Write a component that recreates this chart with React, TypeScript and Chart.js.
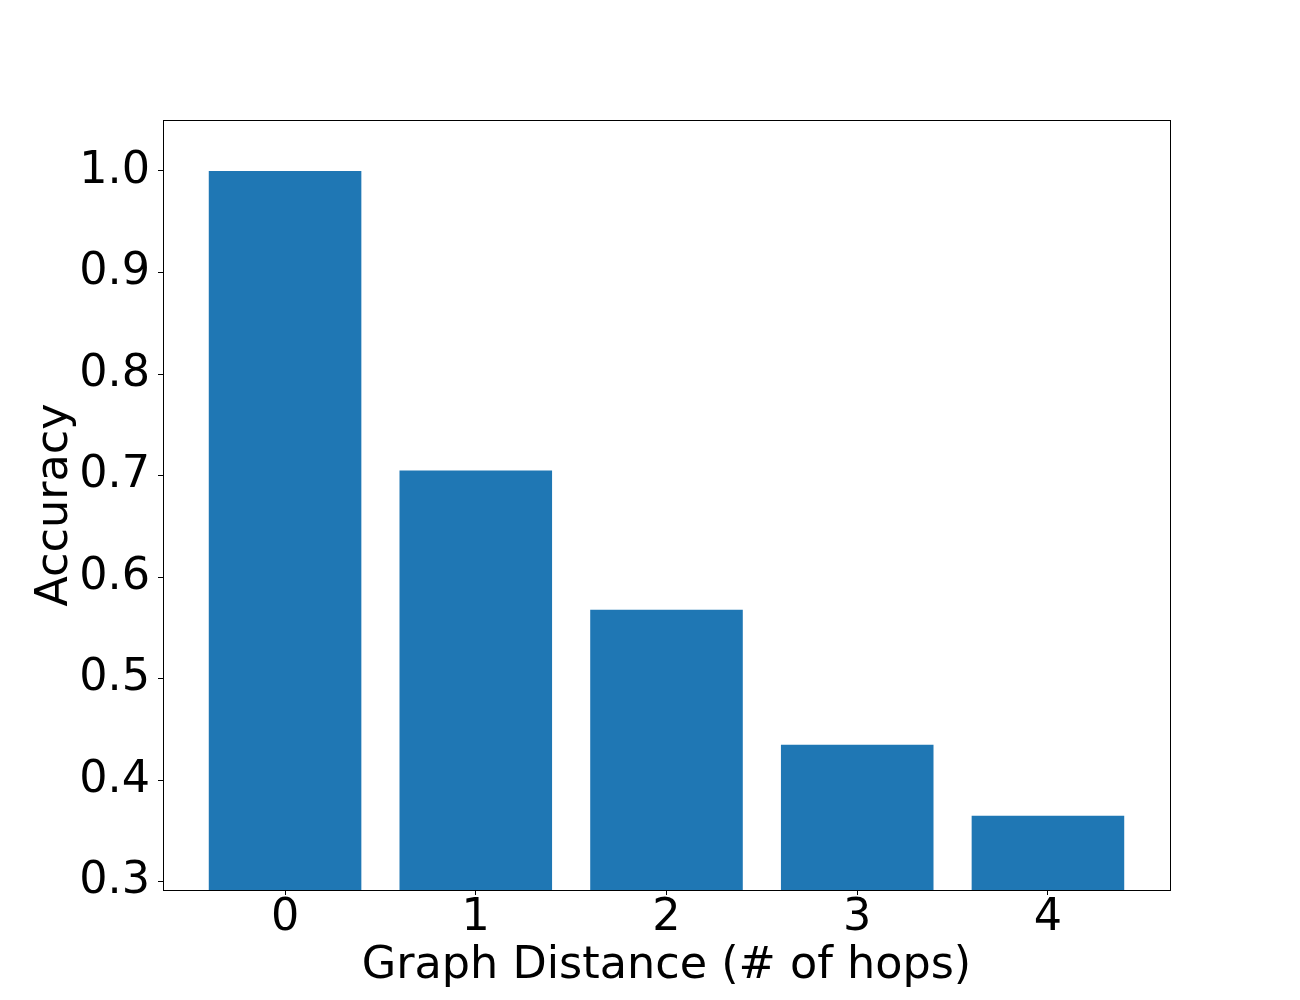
import React, { useEffect, useRef } from "react";
import { Chart, registerables } from "chart.js";

Chart.register(...registerables);

const categories = [0, 1, 2, 3, 4];
const tickLabels = ["0", "1", "2", "3", "4"];
const accuracy = [1.0, 0.705, 0.568, 0.435, 0.365];
const yTicks = [0.3, 0.4, 0.5, 0.6, 0.7, 0.8, 0.9, 1.0];
const xTitle = "Graph Distance (# of hops)";
const yTitle = "Accuracy";

const FONT = "'DejaVu Sans', sans-serif";
const FS = 44.5;

const framePlugin = {
  id: "frame",
  afterDatasetsDraw(chart: any) {
    const { ctx, chartArea } = chart;
    const l = Math.round(chartArea.left) + 0.5;
    const t = Math.round(chartArea.top) + 0.5;
    const r = Math.round(chartArea.right) + 0.5;
    const b = Math.round(chartArea.bottom) + 0.5;
    ctx.save();
    ctx.strokeStyle = "#000";
    ctx.lineWidth = 1;
    ctx.strokeRect(l, t, r - l, b - t);
    ctx.restore();
  },
};

export default function App() {
  const ref = useRef<HTMLCanvasElement | null>(null);

  useEffect(() => {
    if (!ref.current) return;
    const chart = new Chart(ref.current, {
      type: "bar",
      data: {
        datasets: [
          {
            data: accuracy.map((v, i) => ({ x: categories[i], y: v })),
            backgroundColor: "#1f77b4",
            borderWidth: 0,
            barPercentage: 0.8,
            categoryPercentage: 1.0,
          },
        ],
      },
      options: {
        responsive: false,
        animation: false,
        devicePixelRatio: 1,
        layout: { padding: { left: 0, top: 120, right: 130, bottom: 0 } },
        plugins: {
          legend: { display: false },
          tooltip: { enabled: false },
        },
        scales: {
          x: {
            type: "linear",
            min: -0.64,
            max: 4.64,
            offset: false,
            afterBuildTicks: (scale: any) => {
              scale.ticks = categories.map((v) => ({ value: v }));
            },
            afterFit: (scale: any) => {
              scale.height = 110;
            },
            grid: {
              offset: false,
              drawOnChartArea: false,
              drawTicks: true,
              tickLength: 5,
              tickColor: "#000",
              tickWidth: 1,
            },
            border: { display: true, color: "#000", width: 1 },
            ticks: {
              color: "#000",
              padding: 1,
              maxRotation: 0,
              autoSkip: false,
              font: { family: FONT, size: FS, lineHeight: 1.0 },
              callback: (value: any) => {
                const idx = categories.indexOf(Number(value));
                return idx >= 0 ? tickLabels[idx] : "";
              },
            },
            title: {
              display: true,
              text: xTitle,
              color: "#000",
              font: { family: FONT, size: FS, lineHeight: 1.2 },
              padding: { top: 0, bottom: 7 },
            },
          },
          y: {
            type: "linear",
            min: 0.292,
            max: 1.0502,
            afterBuildTicks: (scale: any) => {
              scale.ticks = yTicks.map((v) => ({ value: v }));
            },
            afterFit: (scale: any) => {
              scale.width = 163;
            },
            grid: {
              drawOnChartArea: false,
              drawTicks: true,
              tickLength: 5,
              tickColor: "#000",
              tickWidth: 1,
            },
            border: { display: true, color: "#000", width: 1 },
            ticks: {
              color: "#000",
              padding: 8,
              autoSkip: false,
              font: { family: FONT, size: FS, lineHeight: 1.0 },
              callback: (value: any) => Number(value).toFixed(1),
            },
            title: {
              display: true,
              text: yTitle,
              color: "#000",
              font: { family: FONT, size: FS, lineHeight: 1.2 },
              padding: { top: 29, bottom: 0 },
            },
          },
        },
      },
      plugins: [framePlugin],
    });
    return () => chart.destroy();
  }, []);

  return (
    <div style={{ position: "absolute", left: 0, top: 0, width: 1300, height: 1000, background: "#fff" }}>
      <canvas ref={ref} width={1300} height={1000} style={{ width: 1300, height: 1000, display: "block" }} />
    </div>
  );
}
